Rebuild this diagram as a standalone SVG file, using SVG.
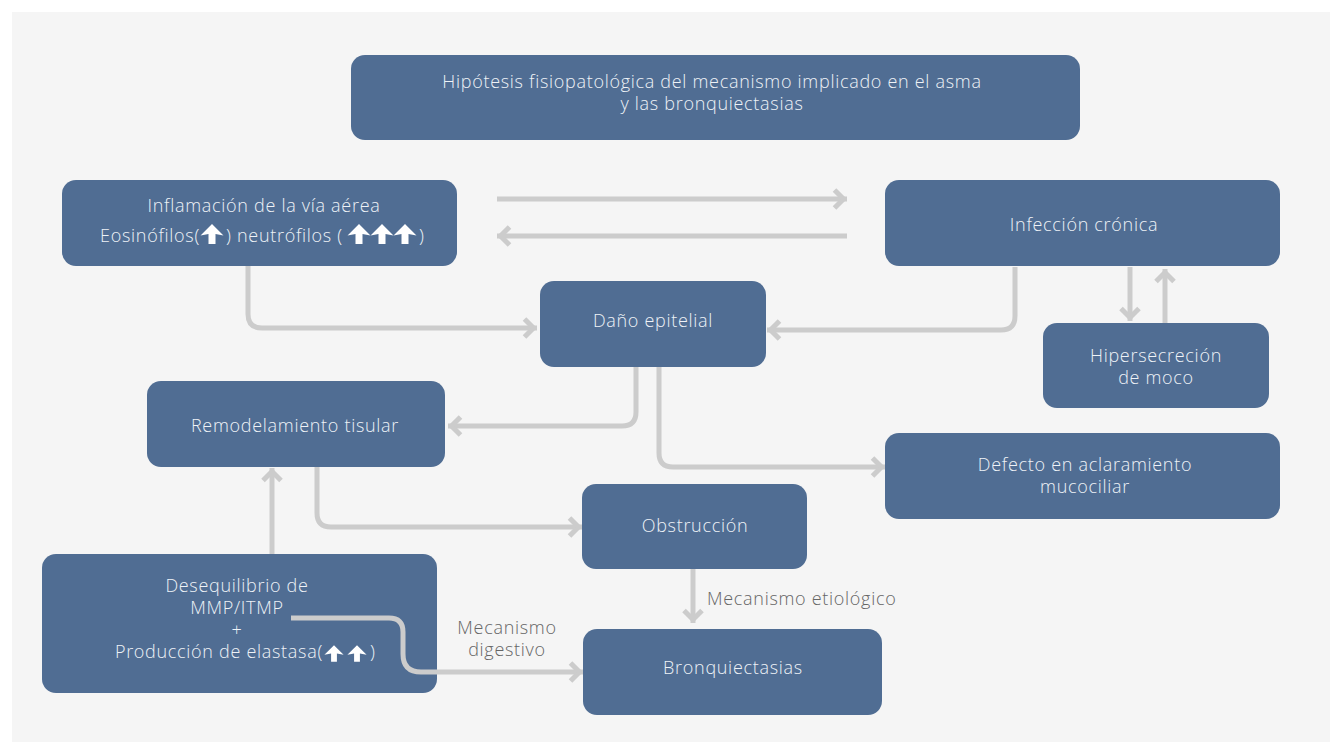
<svg xmlns="http://www.w3.org/2000/svg" width="1330" height="742" viewBox="0 0 1330 742">
<defs>
<style>
.box{fill:#506d93;}
.t{font-family:"Open Sans",Roboto,"Liberation Sans",sans-serif;font-weight:300;font-size:18px;letter-spacing:0.7px;fill:#eef2f7;text-anchor:middle;}
.ts{text-anchor:start;}
.te{text-anchor:end;}
.lbl{font-family:"Open Sans",Roboto,"Liberation Sans",sans-serif;font-weight:300;font-size:18px;letter-spacing:0.7px;fill:#666666;}
.c{fill:none;stroke:#cccccc;stroke-width:5;marker-end:url(#ah);}
</style>
<symbol id="up" viewBox="0 0 24 20">
<polygon points="12,0 23.5,11.5 15.5,10 15.5,20 8.5,20 8.5,10 0.5,11.5" fill="#ffffff"/>
</symbol>
<marker id="ah" markerUnits="userSpaceOnUse" markerWidth="20" markerHeight="24" orient="auto" overflow="visible" refX="0" refY="0">
<path d="M-12.5,-9 L-3.5,0 L-12.5,9" fill="none" stroke="#cccccc" stroke-width="5"/>
</marker>
</defs>
<rect x="12" y="12" width="1318" height="730" fill="#f5f5f5"/>
<g id="title">
<rect class="box" x="351" y="55" width="729" height="85" rx="14"/>
<text class="t" x="712" y="88">Hipótesis fisiopatológica del mecanismo implicado en el asma</text>
<text class="t" x="712" y="110">y las bronquiectasias</text>
</g>
<g id="inflamacion">
<rect class="box" x="62" y="180" width="395" height="86" rx="14"/>
<text class="t" x="264" y="212">Inflamación de la vía aérea</text>
<text class="t te" x="200" y="242">Eosinófilos(</text>
<use href="#up" x="200" y="224" width="24" height="20"/>
<text class="t ts" x="226" y="242">) neutrófilos (</text>
<use href="#up" x="347" y="224" width="24" height="20"/>
<use href="#up" x="370" y="224" width="24" height="20"/>
<use href="#up" x="393" y="224" width="24" height="20"/>
<text class="t ts" x="419" y="242">)</text>
</g>
<g id="infeccion">
<rect class="box" x="885" y="180" width="395" height="86" rx="14"/>
<text class="t" x="1084" y="231">Infección crónica</text>
</g>
<g id="dano">
<rect class="box" x="540" y="281" width="226" height="86" rx="14"/>
<text class="t" x="653" y="327">Daño epitelial</text>
</g>
<g id="hipersecrecion">
<rect class="box" x="1043" y="323" width="226" height="85" rx="14"/>
<text class="t" x="1156" y="362">Hipersecreción</text>
<text class="t" x="1156" y="384">de moco</text>
</g>
<g id="remodelamiento">
<rect class="box" x="147" y="381" width="298" height="86" rx="14"/>
<text class="t" x="295" y="432">Remodelamiento tisular</text>
</g>
<g id="defecto">
<rect class="box" x="885" y="433" width="395" height="86" rx="14"/>
<text class="t" x="1085" y="471">Defecto en aclaramiento</text>
<text class="t" x="1085" y="493">mucociliar</text>
</g>
<g id="obstruccion">
<rect class="box" x="582" y="484" width="225" height="85" rx="14"/>
<text class="t" x="695" y="532">Obstrucción</text>
</g>
<g id="desequilibrio">
<rect class="box" x="42" y="554" width="395" height="139" rx="14"/>
<text class="t" x="237" y="592">Desequilibrio de</text>
<text class="t" x="237" y="614">MMP/ITMP</text>
<text class="t" x="237" y="636">+</text>
<text class="t te" x="323" y="658">Producción de elastasa(</text>
<use href="#up" x="324" y="645" width="20" height="17"/>
<use href="#up" x="347" y="645" width="20" height="17"/>
<text class="t ts" x="370" y="658">)</text>
</g>
<g id="bronquiectasias">
<rect class="box" x="583" y="629" width="299" height="86" rx="14"/>
<text class="t" x="733" y="674">Bronquiectasias</text>
</g>
<g id="connectors">
<path class="c" d="M248,266 V314 Q248,328 262,328 H537"/>
<path class="c" d="M1015,267 V316 Q1015,330 1001,330 H767"/>
<path class="c" d="M497,199 H847"/>
<path class="c" d="M847,236 H497"/>
<path class="c" d="M1130,267 V321"/>
<path class="c" d="M1165,323 V269"/>
<path class="c" d="M636,367 V412 Q636,426 622,426 H448"/>
<path class="c" d="M659,367 V453 Q659,467 673,467 H885"/>
<path class="c" d="M317,467 V513 Q317,527 331,527 H582"/>
<path class="c" d="M272,554 V468"/>
<path class="c" d="M693,569 V623"/>
<path class="c" d="M291,618 H389 Q403,618 403,632 V654 Q403,672 421,672 H583"/>
<text class="lbl" x="707" y="605">Mecanismo etiológico</text>
<text class="lbl" x="507" y="634" text-anchor="middle">Mecanismo</text>
<text class="lbl" x="507" y="656" text-anchor="middle">digestivo</text>
</g>
</svg>
